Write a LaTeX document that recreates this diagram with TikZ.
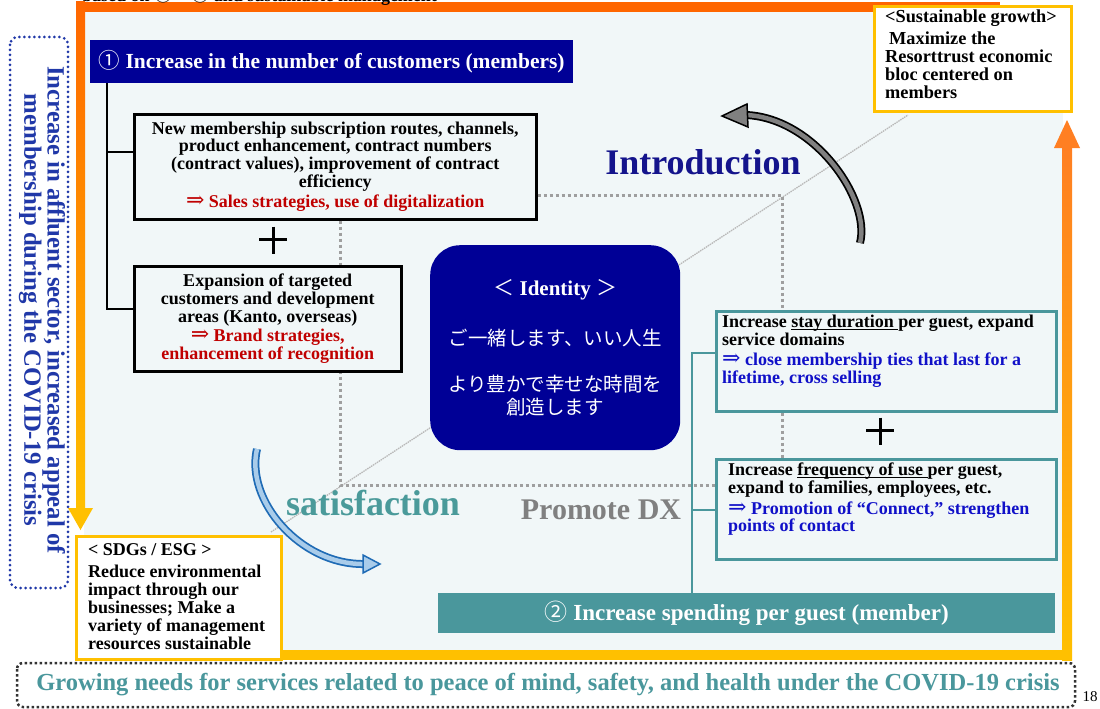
\documentclass[tikz,border=0pt]{standalone}
\usepackage{fontspec}
\setmainfont{Liberation Serif}
\newfontfamily\jp{Noto Sans CJK JP}
\newfontfamily\djv{DejaVu Serif}
\usetikzlibrary{arrows.meta,calc}
\definecolor{bgin}{HTML}{F1F7F8}
\definecolor{navyc}{HTML}{000096}
\definecolor{introc}{HTML}{14148C}
\definecolor{tealc}{HTML}{4A979C}
\definecolor{satc}{HTML}{4A9A9A}
\definecolor{orangec}{HTML}{FF6600}
\definecolor{orangeb}{HTML}{FF7F22}
\definecolor{goldc}{HTML}{FFC000}
\definecolor{redc}{HTML}{C00000}
\definecolor{bluec}{HTML}{1010C8}
\definecolor{dotblue}{HTML}{2038A8}
\definecolor{arrblue}{HTML}{1F6BB5}
\definecolor{arrlight}{HTML}{A9CCEA}
\newcommand\bodyfont{\fontsize{18}{17.6}\selectfont\bfseries}
\newcommand\imp{{\djv\mdseries\fontsize{22}{17.6}\selectfont ⇒}}
\newcommand\ulx[1]{\setbox0\hbox{#1}\rlap{\rule[-2.3pt]{\wd0}{0.9pt}}\box0}
\tikzset{
  blkbox/.style={draw=black, line width=2.5pt, fill=bgin, inner sep=0pt, align=center, font=\bodyfont},
  tealbox/.style={draw=tealc, line width=2.5pt, fill=bgin, inner sep=0pt},
  yelbox/.style={draw=goldc, line width=3pt, fill=white, inner sep=0pt},
  txt/.style={inner sep=0pt, anchor=north west, align=left, font=\bodyfont},
  hdr/.style={inner sep=0pt, text=white},
  dotg/.style={draw=gray!75, line width=3pt, dash pattern=on 3pt off 3pt},
  diag/.style={draw=gray!55, line width=1.3pt, dash pattern=on 1.5pt off 0.8pt},
  plusst/.style={draw=black, line width=3pt},
  bigword/.style={inner sep=0pt, font=\fontsize{36}{40}\selectfont\bfseries},
}
\begin{document}
\begin{tikzpicture}[x=1pt,y=-1pt]
\useasboundingbox (0,0) rectangle (1100,709);
\fill[white] (0,0) rectangle (1100,709);
% inner area
\fill[bgin] (84,12) rectangle (1063,651);
% frame
\fill[orangec] (76,2) rectangle (1000,12);
\shade[top color=orangec, bottom color=goldc] (76,2) rectangle (85,509);
\fill[goldc] (68,508) -- (93,508) -- (80.5,530) -- cycle;
\shade[top color=orangeb, bottom color=goldc] (1062,147) rectangle (1072,660);
\fill[orangeb] (1054,148) -- (1080,148) -- (1067,120) -- cycle;
\fill[goldc] (276,650) rectangle (1072,660);
% clipped top text
\node[inner sep=0pt, anchor=base west, font=\fontsize{18}{20}\selectfont\bfseries] (toptxt) at (82,2) {based on {\jp\mdseries ①} × {\jp\mdseries ②} and sustainable management>};
% corner boxes
\node[yelbox, minimum width=197, minimum height=105, anchor=north west] (sus) at (873,5) {};
\node[txt, font=\fontsize{18.3}{18}\selectfont\bfseries] (sust) at (885,10) {<Sustainable growth>\\[4pt]\hspace{4pt}Maximize the\\Resorttrust economic\\bloc centered on\\members};
\node[yelbox, minimum width=205, minimum height=123, anchor=north west] (sdg) at (75,535) {};
\node[txt, font=\fontsize{18}{17.9}\selectfont\bfseries] (sdgt) at (88,543) {< SDGs / ESG >\\[4.5pt]Reduce environmental\\impact through our\\businesses; Make a\\variety of management\\resources sustainable};
% diagonal
\draw[diag] ($(sdg.north east)+(-12,-3)$) -- ($(sus.south west)+(35,2)$);
% header boxes
\node[hdr, fill=navyc, minimum width=483, minimum height=43, anchor=north west, font=\fontsize{21.5}{24}\selectfont\bfseries] (h1) at (90,40) {{\jp\mdseries ①} Increase in the number of customers (members)};
\node[hdr, fill=tealc, minimum width=617, minimum height=40, anchor=north west, font=\fontsize{23}{26}\selectfont\bfseries] (h2) at (438,593) {{\jp\mdseries ②} Increase spending per guest (member)};
% left boxes
\node[blkbox, minimum width=402, minimum height=105, anchor=north west] (b1) at (133,113) {New membership subscription routes, channels,\\product enhancement, contract numbers\\(contract values), improvement of contract\\efficiency\\[3pt]\textcolor{redc}{\imp\ Sales strategies, use of digitalization}};
% right boxes
\node[tealbox, minimum width=340, minimum height=100, anchor=north west] (rb1) at (715,310) {};
\node[tealbox, minimum width=340, minimum height=100, anchor=north west] (rb2) at (715,458) {};
% dotted guide lines
\draw[dotg] ($(b1.south west)+(207,0)$) |- ($(rb2.north west)+(0,27)$);
\draw[dotg] ($(b1.north east)+(0,82)$) -| ($(rb1.north west)+(67,0)$);
\draw[dotg] ($(rb1.south west)+(67,0)$) -- ($(rb2.north west)+(67,0)$);
% boxes over guides
\node[blkbox, minimum width=267, minimum height=105, anchor=north west] (b2) at (133,265) {Expansion of targeted\\customers and development\\areas (Kanto, overseas)\\[2pt]\textcolor{redc}{\imp\ Brand strategies,}\\\textcolor{redc}{enhancement of recognition}};
\node[tealbox, minimum width=340, minimum height=100, anchor=north west] (rb1b) at (715,310) {};
\node[tealbox, minimum width=340, minimum height=100, anchor=north west] (rb2b) at (715,458) {};
\node[txt] (rt1) at (722,315) {Increase \ulx{stay duration }per guest, expand\\service domains\\[3pt]\textcolor{bluec}{\imp\ close membership ties that last for a}\\\textcolor{bluec}{lifetime, cross selling}};
\node[txt] (rt2) at (728,463) {Increase \ulx{frequency of use }per guest,\\expand to families, employees, etc.\\[3pt]\textcolor{bluec}{\imp\ Promotion of “Connect,” strengthen}\\\textcolor{bluec}{points of contact}};
% brackets
\draw[black, line width=2.5pt] ($(h1.south west)+(17,0)$) |- ($(b1.north west)+(0,39)$);
\draw[black, line width=2.5pt] ($(h1.south west)+(17,0)$) |- ($(b2.north west)+(0,44)$);
\draw[tealc, line width=2.5pt] ($(rb1.north west)+(0,43)$) -| ($(h2.north west)+(254,0)$);
\draw[tealc, line width=2.5pt] ($(rb2.north west)+(0,52)$) -- ($(rb2.north west)+(-23,52)$);
% plus signs
\draw[plusst] ($(b1.south west)+(126,19)$) -- ++(28,0) ($(b1.south west)+(140,6)$) -- ++(0,27);
\draw[plusst] ($(rb1.south west)+(151,18)$) -- ++(28,0) ($(rb1.south west)+(165,5)$) -- ++(0,27);
% identity
\node[fill=navyc, rounded corners=30pt, minimum width=250, minimum height=205, anchor=north west, inner sep=0pt, text=white, align=center, font=\fontsize{19.5}{24}\selectfont] (id) at (430,245) {{\bfseries\fontsize{21}{24}\selectfont{\jp\mdseries ＜} Identity {\jp\mdseries ＞}}\\[26pt]{\jp ご一緒します、いい人生}\\[22pt]{\jp より豊かで幸せな時間を}\\[-1pt]{\jp 創造します}};
% big words
\node[bigword, text=introc] (intro) at (703,162) {Introduction};
\node[bigword, text=satc] (satis) at (373,503) {satisfaction};
\node[bigword, text=gray, font=\fontsize{30}{34}\selectfont\bfseries] (dx) at (601,510) {Promote DX};
% curved arrows
\draw[black, line width=8pt] (860,243) .. controls (871,200) and (815,118) .. (746,115);
\draw[gray, line width=4.5pt] (860,243) .. controls (871,200) and (815,118) .. (746,115);
\filldraw[fill=gray, draw=black, line width=1.5pt] (747,104) -- (722,116) -- (748,127) -- cycle;
\draw[arrblue, line width=8pt] (257,449) .. controls (245,500) and (300,565) .. (364,564);
\draw[arrlight, line width=4.5pt] (257,449) .. controls (245,500) and (300,565) .. (364,564);
\filldraw[fill=arrlight, draw=arrblue, line width=1.5pt] (363,555) -- (380,564) -- (363,573) -- cycle;
% left dotted box
\draw[dotblue, line width=3pt, line cap=round, dash pattern=on 0pt off 5pt, rounded corners=8pt] (10,37) rectangle (68,588);
\node[rotate=-90, inner sep=0pt, align=center, text=dotblue, font=\fontsize{24.8}{19.5}\selectfont\bfseries] (lefttxt) at (42,310) {Increase in affluent sector, increased appeal of\\membership during the COVID-19 crisis};
% bottom dotted box
\draw[black!80, line width=2.5pt, dash pattern=on 2.5pt off 2.5pt, rounded corners=6pt] (17,663) rectangle (1075,707);
\node[inner sep=0pt, text=tealc, font=\fontsize{24.5}{26}\selectfont\bfseries] (bottxt) at (548,685) {Growing needs for services related to peace of mind, safety, and health under the COVID-19 crisis};
\node[inner sep=0pt, font=\fontsize{15}{18}\selectfont] (pg) at (1090,697) {18};
\end{tikzpicture}
\end{document}
